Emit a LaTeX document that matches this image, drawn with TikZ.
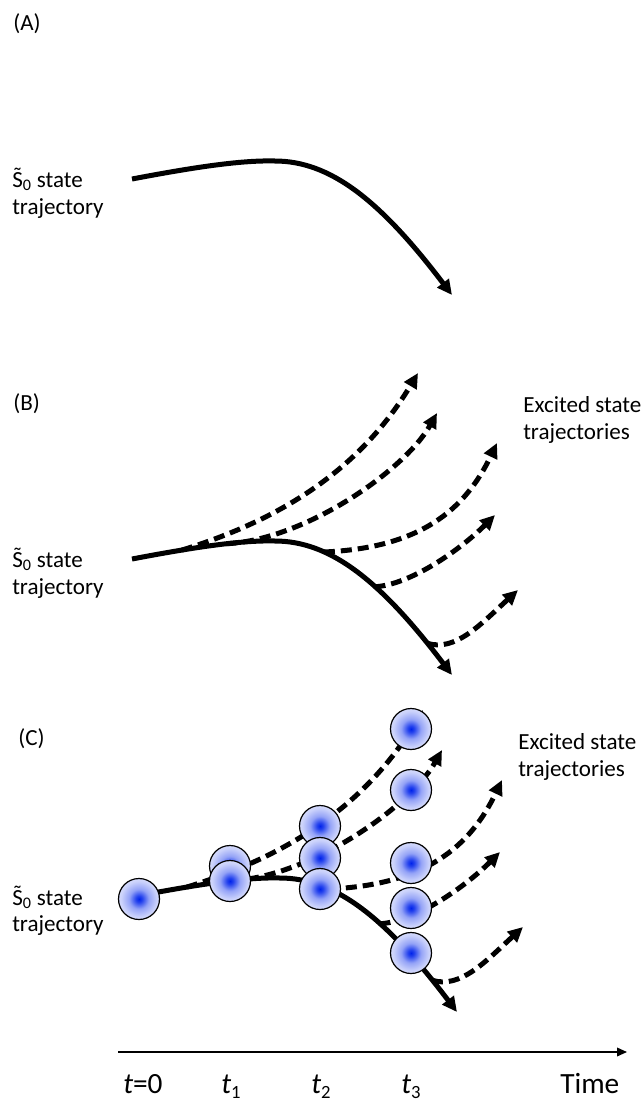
\documentclass[tikz,border=0pt]{standalone}
\usepackage{fontspec}
\setmainfont{Carlito}
\usetikzlibrary{arrows.meta}
\definecolor{ballblue}{RGB}{0,35,235}
\colorlet{ballA}{ballblue!85!white}
\colorlet{ballB}{ballblue!42!white}
\colorlet{ballC}{ballblue!20!white}
\colorlet{ballD}{ballblue!7!white}
\pgfdeclareradialshading{ballshade}{\pgfpoint{0bp}{0bp}}{color(0bp)=(ballblue); color(4bp)=(ballA); color(12bp)=(ballB); color(22bp)=(ballC); color(36bp)=(ballD); color(50bp)=(white)}
\newcommand\Stil{\ooalign{S\cr\hidewidth\raisebox{0.17em}{\char"02DC}\hidewidth\cr}}
\newcommand\trajsolid{%
  \draw[traj] (132,559) .. controls (190,548) and (240,540) .. coordinate[pos=0.3] (s1) coordinate[pos=0.6] (s2) (275,541)
     .. controls (330,541) and (380,580) .. coordinate[pos=0.3] (s3) coordinate[pos=0.6] (s4) coordinate[pos=0.88] (s5) (452,675);}
\newcommand\trajexcited{%
  \draw[exc] (s1) .. controls (280,520) and (360,470) .. (418,373);
  \draw[exc] (s2) .. controls (305,540) and (405,470) .. (437,413);
  \draw[exc] (s3) .. controls (420,548) and (465,510) .. (497,443);
  \draw[exc] (s4) .. controls (410,585) and (460,550) .. (495,515);
  \draw[exc] (s5) .. controls (455,652) and (480,625) .. (518,590);}
\begin{document}
\begin{tikzpicture}[x=0.75pt,y=-0.75pt,
  traj/.style={line width=3.75pt,-{Triangle[length=11.25pt,width=10.5pt]}},
  exc/.style={traj,dash pattern=on 8.25pt off 4.5pt},
  lbl/.style={font=\fontsize{17.3}{20}\selectfont,anchor=base west,inner sep=0pt},
  tlbl/.style={font=\fontsize{22}{26}\selectfont,anchor=base west,inner sep=0pt},
  ball/.style={circle,draw,line width=0.9pt,minimum size=30.75pt,inner sep=0pt,shade,shading=ballshade}]
\useasboundingbox (0,0) rectangle (643,1104);

% panel labels
\node[lbl] (la) at (13,30) {(A)};
\node[lbl] (lb) at (13,410) {(B)};
\node[lbl] (lc) at (18,745) {(C)};

% S0 labels
\node[lbl] (sa1) at (12,187) {\Stil\textsubscript{0} state};
\node[lbl] (sa2) at (12,214) {trajectory};
\node[lbl] (sb1) at (12,567) {\Stil\textsubscript{0} state};
\node[lbl] (sb2) at (12,594) {trajectory};
\node[lbl] (sc1) at (12,905) {\Stil\textsubscript{0} state};
\node[lbl] (sc2) at (12,931) {trajectory};

% excited labels
\node[lbl] (eb1) at (523,412) {Excited state};
\node[lbl] (eb2) at (523,439) {trajectories};
\node[lbl] (ec1) at (518,749) {Excited state};
\node[lbl] (ec2) at (518,776) {trajectories};

% (A)
\begin{scope}[shift={(0,-380)},name prefix=A-]
  \trajsolid
\end{scope}

% (B)
\begin{scope}[name prefix=B-]
  \trajsolid
  \trajexcited
\end{scope}

% (C)
\begin{scope}[shift={(5,337)},name prefix=C-]
  \trajsolid
  \trajexcited
\end{scope}

\node[ball] (c0) at (139,899) {};
\node[ball] (c1a) at (230,866) {};
\node[ball] (c1b) at (230,881) {};
\node[ball] (c2a) at (320,826) {};
\node[ball] (c2b) at (320,858) {};
\node[ball] (c2c) at (320,889) {};
\node[ball] (c3a) at (411,729) {};
\node[ball] (c3b) at (411,790) {};
\node[ball] (c3c) at (411,863) {};
\node[ball] (c3d) at (411,908) {};
\node[ball] (c3e) at (411,953) {};

% time axis
\coordinate (ax0) at (118,1052);
\coordinate (ax1) at (627,1052);
\draw[line width=1.1pt,-{Triangle[length=7.5pt,width=6.5pt]}] (ax0) -- (ax1);
\node[tlbl] (t0) at (123,1093) {\textit{t}=0};
\node[tlbl] (t1) at (221,1093) {\textit{t}\raisebox{-4pt}{\fontsize{14}{14}\selectfont 1}};
\node[tlbl] (t2) at (311,1093) {\textit{t}\raisebox{-4pt}{\fontsize{14}{14}\selectfont 2}};
\node[tlbl] (t3) at (401,1093) {\textit{t}\raisebox{-4pt}{\fontsize{14}{14}\selectfont 3}};
\node[tlbl] (tt) at (560,1093) {Time};
\end{tikzpicture}
\end{document}
